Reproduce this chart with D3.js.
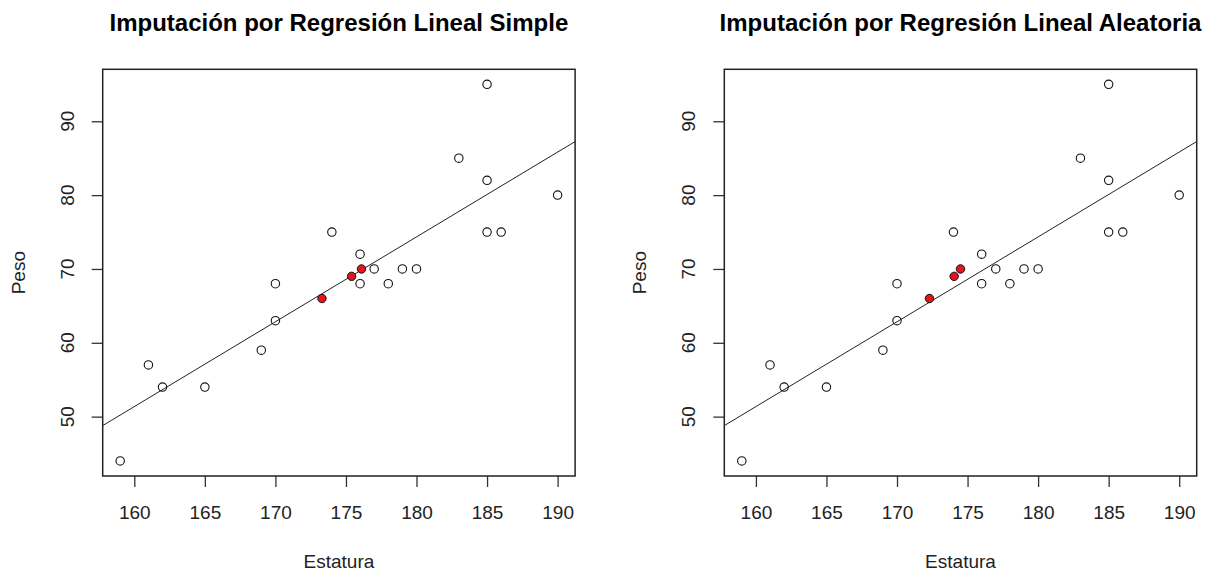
<!DOCTYPE html>
<html>
<head>
<meta charset="utf-8">
<script src="https://cdn.jsdelivr.net/npm/d3@7"></script>
<style>
  body { margin: 0; background: #fff; }
  svg { display: block; font-family: "Liberation Sans", Arial, sans-serif; }
</style>
</head>
<body>
<svg id="chart" width="1214" height="571"></svg>
<script>
// observed data
const estatura = [159, 161, 162, 165, 169, 170, 170, 174, 176, 176, 177, 178, 179, 180, 183, 185, 185, 185, 186, 190];
const peso     = [44, 57, 54, 54, 59, 63, 68, 75, 72, 68, 70, 68, 70, 70, 85, 95, 82, 75, 75, 80];

// imputed points (red)
const pesoImputado = [66, 69, 70];
const estaturaSimple = [173.3, 175.4, 176.1];
const estaturaAleatoria = [172.3, 174.05, 174.5];

// regression line Peso ~ Estatura
const intercepto = -132.48;
const pendiente = 1.149;

const xTicks = [160, 165, 170, 175, 180, 185, 190];
const yTicks = [50, 60, 70, 80, 90];

const titulos = ["Imputación por Regresión Lineal Simple", "Imputación por Regresión Lineal Aleatoria"];
const imputados = [estaturaSimple, estaturaAleatoria];
const panelLeft = [102.7, 724.3];

const svg = d3.select("#chart");
const plotW = 472.4, plotTop = 69.3, plotBottom = 476;

// R style domain: data range padded 4%
const xDom = [d3.min(estatura), d3.max(estatura)];
const yDom = [d3.min(peso), d3.max(peso)];
const padX = (xDom[1] - xDom[0]) * 0.04, padY = (yDom[1] - yDom[0]) * 0.04;

titulos.forEach(function(titulo, p) {
  const left = panelLeft[p];
  const x = d3.scaleLinear().domain([xDom[0] - padX, xDom[1] + padX]).range([left, left + plotW]);
  const y = d3.scaleLinear().domain([yDom[0] - padY, yDom[1] + padY]).range([plotBottom, plotTop]);
  const g = svg.append("g");

  // title
  g.append("text")
    .attr("x", left + plotW / 2).attr("y", 31)
    .attr("text-anchor", "middle")
    .attr("font-size", "24px").attr("font-weight", "bold")
    .text(titulo);

  // x axis
  const xAxis = g.append("g")
    .attr("transform", "translate(0," + plotBottom + ")")
    .call(d3.axisBottom(x).tickValues(xTicks).tickSize(11).tickPadding(19));
  xAxis.select(".domain").remove();
  xAxis.selectAll("line").attr("stroke", "#333").attr("stroke-width", 1.3);
  xAxis.selectAll("text").attr("font-size", "19px").attr("fill", "#222").attr("font-family", "Liberation Sans, Arial, sans-serif");

  // y axis, labels rotated like R
  const yAxis = g.append("g")
    .attr("transform", "translate(" + left + ",0)")
    .call(d3.axisLeft(y).tickValues(yTicks).tickSize(11));
  yAxis.select(".domain").remove();
  yAxis.selectAll("line").attr("stroke", "#333").attr("stroke-width", 1.3);
  yAxis.selectAll("text").remove();
  g.selectAll(".ylab")
    .data(yTicks)
    .enter()
    .append("text")
    .attr("transform", function(d) { return "translate(" + (left - 29) + "," + y(d) + ") rotate(-90)"; })
    .attr("text-anchor", "middle")
    .attr("font-size", "19px").attr("fill", "#222")
    .text(function(d) { return d; });

  // axis titles
  g.append("text")
    .attr("x", left + plotW / 2).attr("y", 568)
    .attr("text-anchor", "middle")
    .attr("font-size", "19px").attr("fill", "#222")
    .text("Estatura");
  g.append("text")
    .attr("transform", "translate(" + (left - 78) + "," + ((plotTop + plotBottom) / 2) + ") rotate(-90)")
    .attr("text-anchor", "middle")
    .attr("font-size", "19px").attr("fill", "#222")
    .text("Peso");

  // clip for regression line
  const clipId = "clip" + p;
  svg.append("clipPath").attr("id", clipId)
    .append("rect").attr("x", left).attr("y", plotTop).attr("width", plotW).attr("height", plotBottom - plotTop);

  const xs = x.domain();
  g.append("line")
    .attr("clip-path", "url(#" + clipId + ")")
    .attr("x1", x(xs[0])).attr("y1", y(intercepto + pendiente * xs[0]))
    .attr("x2", x(xs[1])).attr("y2", y(intercepto + pendiente * xs[1]))
    .attr("stroke", "#222").attr("stroke-width", 1);

  // observed points
  g.selectAll(".obs")
    .data(estatura.map(function(d, i) { return [d, peso[i]]; }))
    .enter()
    .append("circle")
    .attr("cx", function(d) { return x(d[0]); })
    .attr("cy", function(d) { return y(d[1]); })
    .attr("r", 4.2)
    .attr("fill", "none").attr("stroke", "#111").attr("stroke-width", 1.1);

  // imputed points
  g.selectAll(".imp")
    .data(imputados[p].map(function(d, i) { return [d, pesoImputado[i]]; }))
    .enter()
    .append("circle")
    .attr("cx", function(d) { return x(d[0]); })
    .attr("cy", function(d) { return y(d[1]); })
    .attr("r", 4.2)
    .attr("fill", "#e8141c").attr("stroke", "#111").attr("stroke-width", 1);

  // box
  g.append("rect")
    .attr("x", left).attr("y", plotTop).attr("width", plotW).attr("height", plotBottom - plotTop)
    .attr("fill", "none").attr("stroke", "#222").attr("stroke-width", 1.5);
});
</script>
</body>
</html>
